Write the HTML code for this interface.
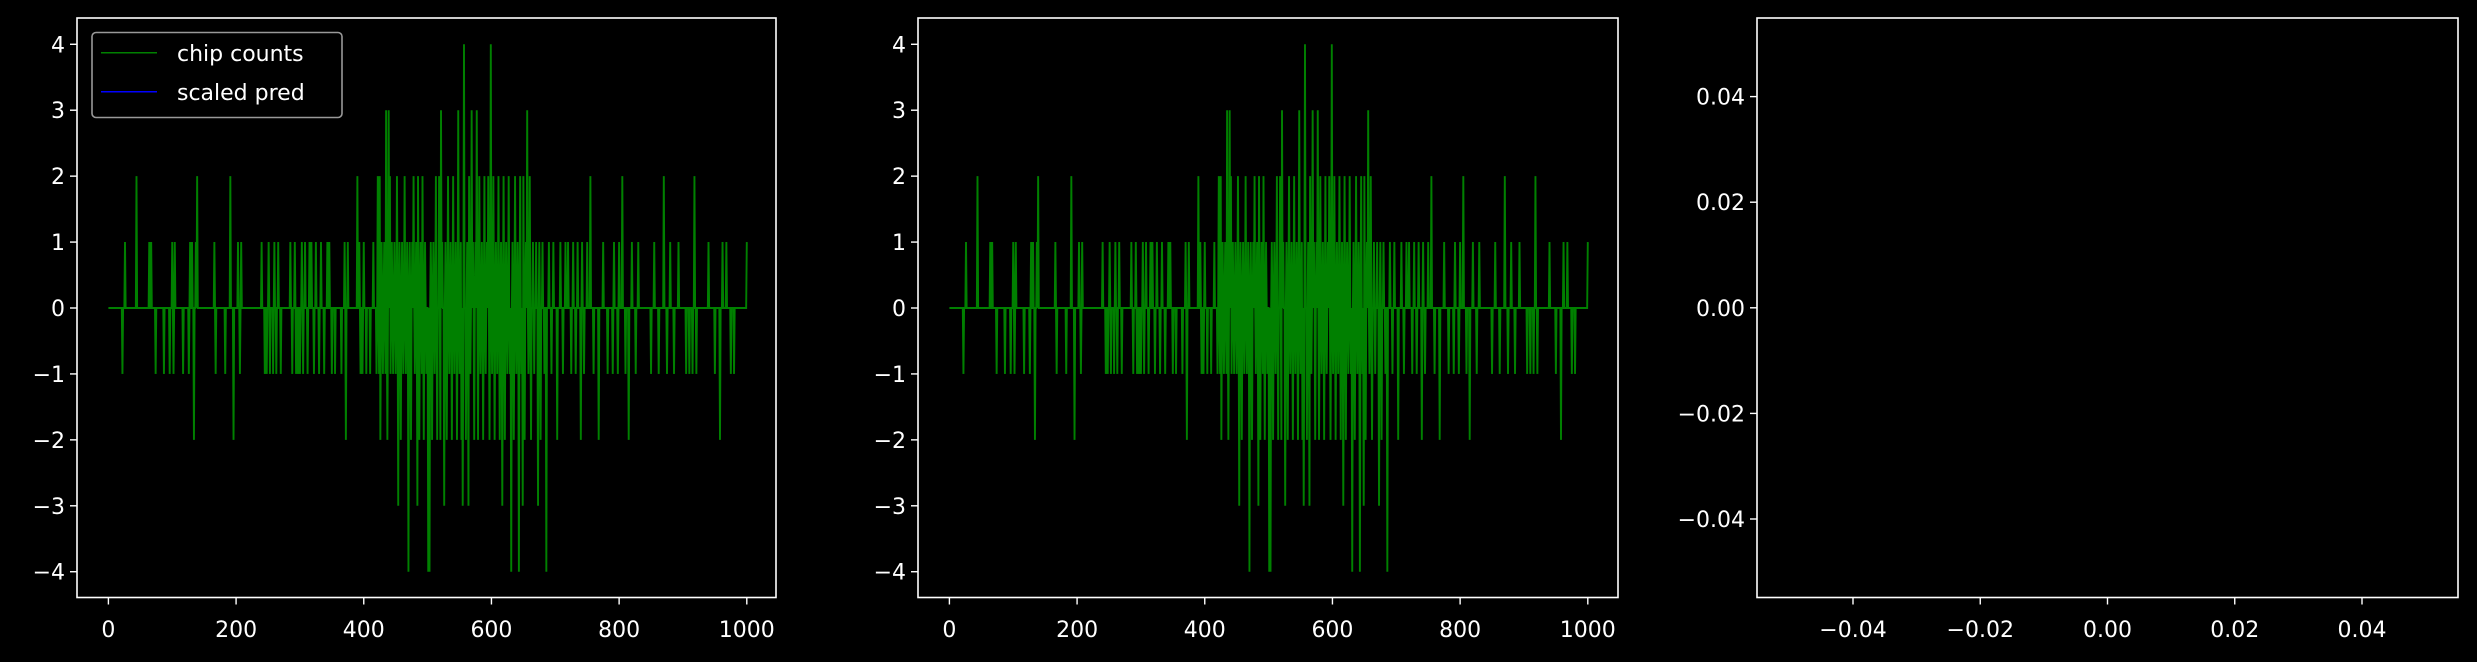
<!DOCTYPE html>
<html><head><meta charset="utf-8"><style>
html,body{margin:0;padding:0;background:#000;}
svg{display:block;}
text{font-family:"DejaVu Sans","Liberation Sans",sans-serif;font-size:22px;fill:#fff;}
</style></head><body>
<svg id="fig" width="2477" height="662" xmlns="http://www.w3.org/2000/svg">
<rect width="2477" height="662" fill="#000"/>
</svg>
<script>
// sparse chip-count data: [index, value]; all other indices are 0
const spikeIdx = [22,26,44,64,67,74,87,96,100,102,104,117,126,128,131,134,137,139,166,168,183,191,196,203,206,208,240,245,248,251,253,258,260,263,266,270,285,288,292,294,297,300,303,305,308,312,315,318,322,325,330,333,338,343,346,350,355,365,370,372,375,390,393,395,398,400,404,410,415,
420,422,424,425,426,428,430,432,434,435,437,439,441,442,444,446,448,450,452,454,456,458,460,462,464,466,468,470,472,474,476,478,480,482,484,485,487,489,491,492,494,496,498,501,503,505,507,509,511,513,515,518,520,521,523,526,528,530,532,534,536,538,540,542,544,546,548,550,552,553,555,557,560,562,564,565,567,569,571,573,575,577,579,581,583,585,587,589,591,593,595,597,599,601,603,605,607,609,611,613,615,617,619,621,623,625,627,629,631,633,635,637,639,641,643,645,647,649,650,652,654,656,658,660,662,665,667,670,673,675,677,680,683,686,690,694,697,
703,708,712,716,720,725,728,732,735,740,742,745,750,755,760,768,775,782,790,792,798,800,805,810,815,820,826,830,850,855,862,870,875,880,886,893,905,910,915,918,921,940,950,958,962,968,975,980,1000];
const spikeVal = [-1,1,2,1,1,-1,-1,-1,1,-1,1,-1,-1,1,1,-2,1,2,1,-1,-1,2,-2,1,-1,1,1,-1,-1,1,-1,-1,1,-1,1,-1,1,-1,1,-1,-1,-1,1,-1,1,-1,1,1,-1,1,-1,1,-1,1,1,-1,-1,-1,1,-2,1,2,1,-1,-1,1,-1,-1,1,
-1,2,-1,2,-2,1,-1,1,-1,3,-2,3,2,-1,1,-1,1,-1,2,-3,1,-2,1,-1,2,-1,1,-4,1,-2,1,2,-1,1,-3,2,-2,1,-1,2,-2,1,-1,-4,-4,1,-2,1,-1,2,-2,2,-2,3,1,-3,1,-2,2,-1,1,-2,2,-1,1,-2,3,-1,1,-2,-3,4,-2,1,-3,2,-1,3,1,-2,1,3,-2,2,-1,1,-2,2,-1,1,2,-2,4,-1,2,-2,1,-1,2,-2,1,-3,2,-2,1,-1,2,-1,-4,1,-2,2,-1,1,-4,2,-1,-3,2,-2,1,3,-1,2,-2,1,-1,1,-3,1,-2,1,-1,-4,1,-1,1,-2,1,-1,1,
1,-1,1,-1,1,-2,1,-1,1,2,-1,-2,1,-1,-1,1,-1,1,2,-1,-2,1,-1,1,-1,1,-1,2,-1,1,-1,1,-1,-1,-1,2,-1,1,-1,-2,1,1,-1,-1,1,1,-1,1,-1];
const xTicks = [0,200,400,600,800,1000];
const yTicks = [4,3,2,1,0,-1,-2,-3,-4];
const x3Ticks = [-0.04,-0.02,0.00,0.02,0.04];
const y3Ticks = [0.04,0.02,0.00,-0.02,-0.04];

const NS = "http://www.w3.org/2000/svg";
const svg = document.getElementById('fig');
function mk(tag, attrs, parent){
  const e = document.createElementNS(NS, tag);
  for (const k in attrs) e.setAttribute(k, attrs[k]);
  (parent||svg).appendChild(e);
  return e;
}
const TOP = 18, BOT = 597.5;
function fmtNum(v, d){ const s = Math.abs(v).toFixed(d); return (v < -1e-12 ? "\u2212" : "") + s; }

const series = new Array(1001).fill(0);
spikeIdx.forEach((i, k) => { series[i] = spikeVal[k]; });

function panel(left, right, name, withLegend){
  const g = mk('g', {});
  
  
  const xS = v => left + 31.4 + v * (638.4 / 1000);
  const yS = v => 308 - v * 65.93;
  let d = '';
  series.forEach((v, i) => { d += (i ? 'L' : 'M') + xS(i).toFixed(2) + ' ' + yS(v).toFixed(2); });
  const line = mk('path', {d: d, fill: 'none', stroke: '#008000', 'stroke-width': 1.9, 'stroke-linejoin': 'miter'}, g);
  
  
  const fr = mk('rect', {x: left, y: TOP, width: right - left, height: BOT - TOP, fill: 'none', stroke: '#fff', 'stroke-width': 1.6}, g);
  
  
  xTicks.forEach(v => {
    const x = xS(v);
    mk('line', {x1: x, x2: x, y1: BOT, y2: BOT + 7, stroke: '#fff', 'stroke-width': 1.4}, g);
    const t = mk('text', {x: x, y: 637, 'text-anchor': 'middle'}, g);
    t.textContent = String(v);
    
    
  });
  yTicks.forEach(v => {
    const y = yS(v);
    mk('line', {x1: left - 7, x2: left, y1: y, y2: y, stroke: '#fff', 'stroke-width': 1.4}, g);
    const t = mk('text', {x: left - 12, y: y + 8, 'text-anchor': 'end'}, g);
    t.textContent = fmtNum(v, 0);
    
    
  });
  if (withLegend){
    const lg = mk('g', {}, g);
    
    
    mk('rect', {x: left + 15, y: 32.5, width: 250, height: 85, rx: 4, fill: '#000', 'fill-opacity': 0.8, stroke: '#999', 'stroke-width': 1.6}, lg);
    const e1 = mk('g', {}, lg);
    
    
    mk('line', {x1: left + 24, x2: left + 80, y1: 52.7, y2: 52.7, stroke: '#008000', 'stroke-width': 1.5}, e1);
    const t1 = mk('text', {x: left + 100, y: 61}, e1); t1.textContent = 'chip counts';
    const e2 = mk('g', {}, lg);
    
    
    mk('line', {x1: left + 24, x2: left + 80, y1: 91.7, y2: 91.7, stroke: '#0000ff', 'stroke-width': 1.5}, e2);
    const t2 = mk('text', {x: left + 100, y: 100}, e2); t2.textContent = 'scaled pred';
  }
}
panel(77, 776, 'chip-counts-panel', true);
panel(918, 1618, 'chip-counts-panel-copy', false);

(function(){
  const left = 1757, right = 2458;
  const g = mk('g', {});
  
  
  const xS = v => 2107.5 + v * (509 / 0.08);
  const yS = v => 307.8 - v * (422.4 / 0.08);
  const fr = mk('rect', {x: left, y: TOP, width: right - left, height: BOT - TOP, fill: 'none', stroke: '#fff', 'stroke-width': 1.6}, g);
  
  
  x3Ticks.forEach(v => {
    const x = xS(v);
    mk('line', {x1: x, x2: x, y1: BOT, y2: BOT + 7, stroke: '#fff', 'stroke-width': 1.4}, g);
    const t = mk('text', {x: x, y: 637, 'text-anchor': 'middle'}, g);
    t.textContent = fmtNum(v, 2);
    
    
  });
  y3Ticks.forEach(v => {
    const y = yS(v);
    mk('line', {x1: left - 7, x2: left, y1: y, y2: y, stroke: '#fff', 'stroke-width': 1.4}, g);
    const t = mk('text', {x: left - 12, y: y + 8, 'text-anchor': 'end'}, g);
    t.textContent = fmtNum(v, 2);
    
    
  });
})();
</script>
</body></html>
